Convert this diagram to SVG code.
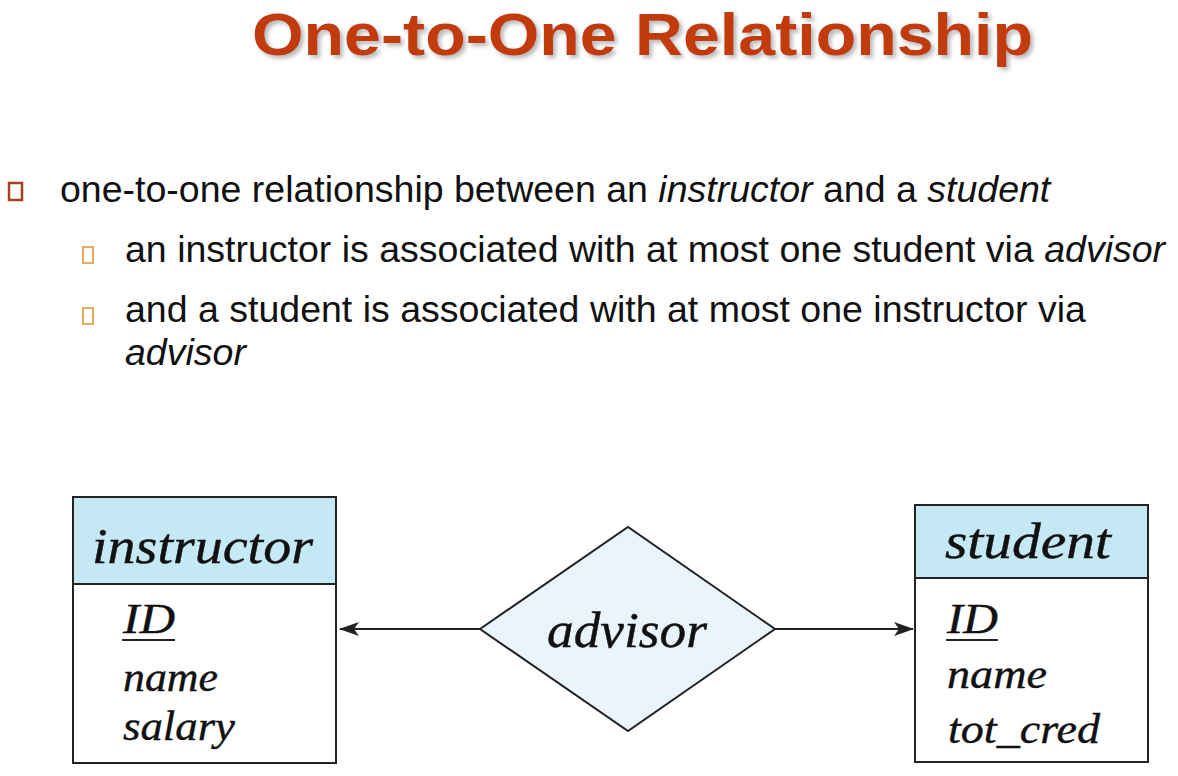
<svg xmlns="http://www.w3.org/2000/svg" width="1178" height="776" viewBox="0 0 1178 776">
<style>
.title{font-family:"Liberation Sans Narrow","Liberation Sans",Arial,sans-serif;font-weight:bold;font-size:60px;fill:#C13A0C;}
.body{font-family:"Liberation Sans",Arial,sans-serif;font-size:37.5px;fill:#111;}
.it{font-style:italic;}
.ent{font-family:"Liberation Serif","Times New Roman",serif;font-style:italic;fill:#111;stroke:#111;stroke-width:0.4;}
.hdr{font-size:50px;}
.attr{font-size:42px;}
.box{fill:#fff;stroke:#222;stroke-width:2;}
.head{fill:#C4E8F4;stroke:#222;stroke-width:2;}
.dia{fill:#EAF4FC;stroke:#222;stroke-width:2;}
.conn{stroke:#222;stroke-width:2;fill:none;}
.b1{fill:none;stroke:#A5421E;stroke-width:2.5;}
.b2{fill:none;stroke:#EBAA62;stroke-width:2;}
.ul{stroke:#222;stroke-width:2;}
</style>
<defs>
<filter id="sh" x="-5%" y="-20%" width="110%" height="150%">
<feDropShadow dx="3" dy="3" stdDeviation="2" flood-color="#888" flood-opacity="0.6"/>
</filter>
<marker id="arr" viewBox="0 0 20 14" refX="19" refY="7" markerWidth="20" markerHeight="14" markerUnits="userSpaceOnUse" orient="auto">
<path d="M0,0 L20,7 L0,14 L5,7 Z" fill="#222"/>
</marker>
</defs>
<rect width="1178" height="776" fill="#fff"/>
<g id="title">
<text class="title" x="252" y="55" textLength="781" lengthAdjust="spacingAndGlyphs" filter="url(#sh)">One-to-One Relationship</text>
</g>
<g id="bullets">
<rect class="b1" x="9" y="183" width="13" height="17"/>
<text class="body" x="60" y="202">one-to-one relationship between an <tspan class="it">instructor</tspan> and a <tspan class="it">student</tspan></text>
<rect class="b2" x="83" y="247" width="10" height="16"/>
<text class="body" x="125" y="262">an instructor is associated with at most one student via <tspan class="it">advisor</tspan></text>
<rect class="b2" x="83" y="308" width="10" height="16"/>
<text class="body" x="125" y="322">and a student is associated with at most one instructor via</text>
<text class="body it" x="125" y="365">advisor</text>
</g>
<g id="connectors">
<line class="conn" x1="480" y1="629" x2="340" y2="629" marker-end="url(#arr)"/>
<line class="conn" x1="775" y1="629" x2="913" y2="629" marker-end="url(#arr)"/>
</g>
<g id="instructor">
<rect class="box" x="73" y="497" width="263" height="266"/>
<rect class="head" x="73" y="497" width="263" height="87"/>
<text class="ent hdr" x="92" y="563" textLength="221" lengthAdjust="spacingAndGlyphs">instructor</text>
<text class="ent attr" x="123" y="633" textLength="52" lengthAdjust="spacingAndGlyphs">ID</text>
<line class="ul" x1="122" y1="640" x2="175" y2="640"/>
<text class="ent attr" x="123" y="691" textLength="95" lengthAdjust="spacingAndGlyphs">name</text>
<text class="ent attr" x="123" y="740" textLength="112" lengthAdjust="spacingAndGlyphs">salary</text>
</g>
<g id="advisor">
<polygon class="dia" points="480,629 628,527 775,629 628,731"/>
<text class="ent hdr" x="547" y="647" textLength="160" lengthAdjust="spacingAndGlyphs">advisor</text>
</g>
<g id="student">
<rect class="box" x="915" y="505" width="233" height="257"/>
<rect class="head" x="915" y="505" width="233" height="73"/>
<text class="ent hdr" x="945" y="558" textLength="166" lengthAdjust="spacingAndGlyphs">student</text>
<text class="ent attr" x="947" y="633" textLength="51" lengthAdjust="spacingAndGlyphs">ID</text>
<line class="ul" x1="946" y1="640" x2="998" y2="640"/>
<text class="ent attr" x="947" y="688" textLength="100" lengthAdjust="spacingAndGlyphs">name</text>
<text class="ent attr" x="948" y="743" textLength="152" lengthAdjust="spacingAndGlyphs">tot_cred</text>
</g>
</svg>
